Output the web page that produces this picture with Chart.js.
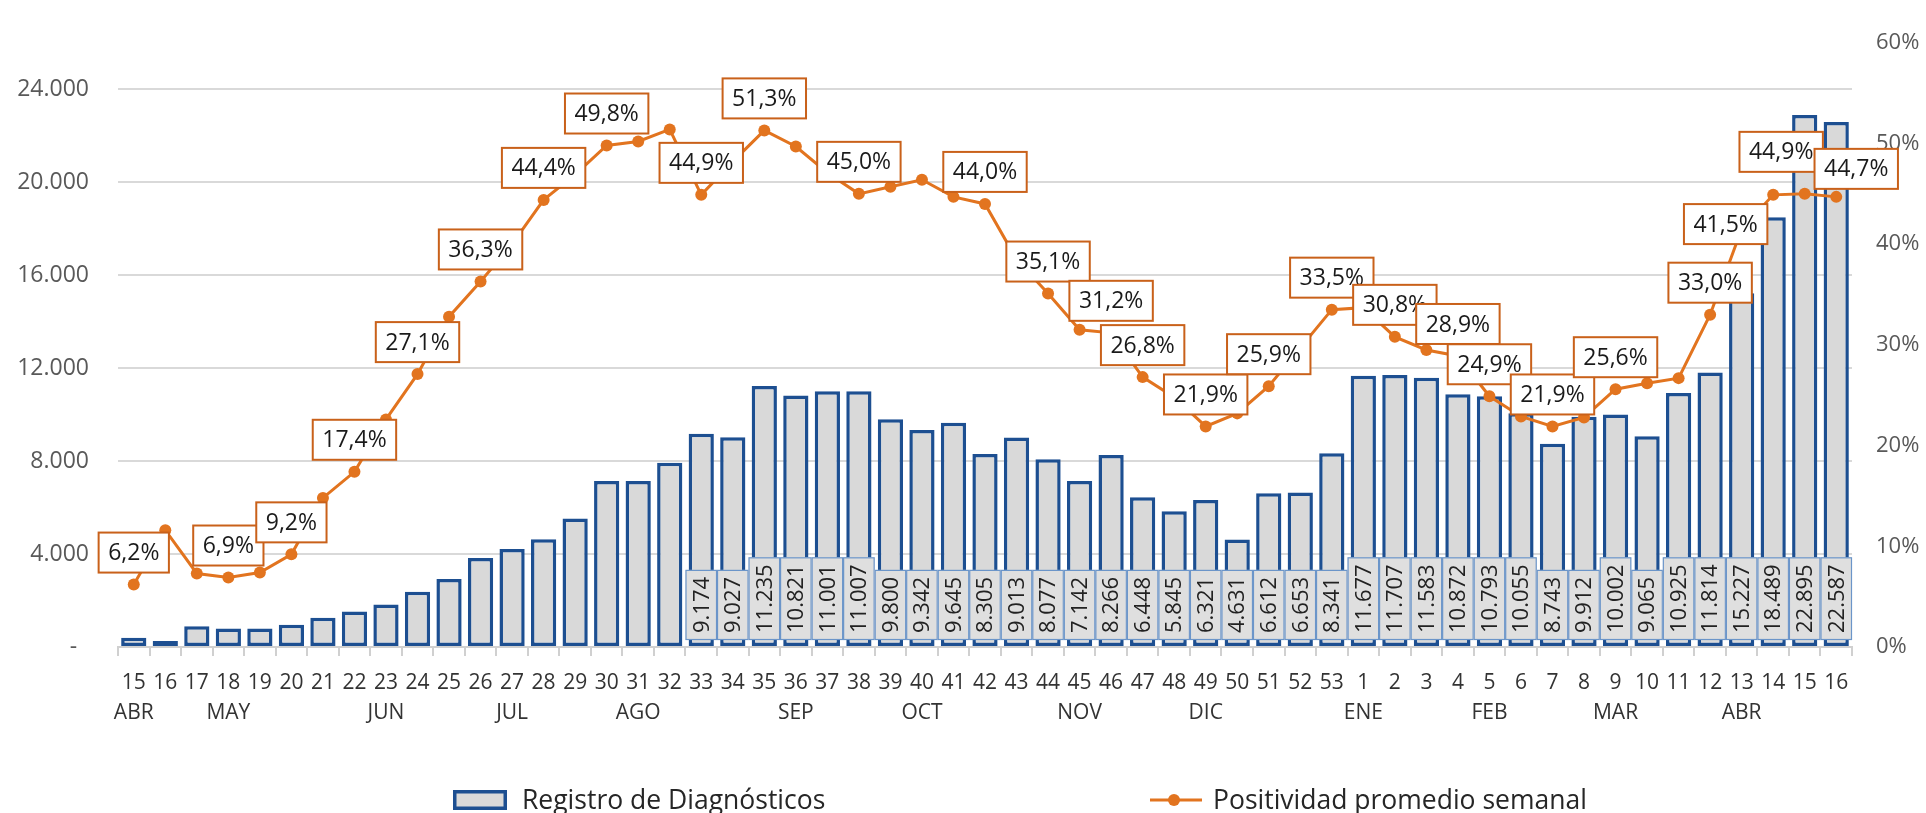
<!DOCTYPE html>
<html>
<head>
<meta charset="utf-8">
<script src="https://cdn.jsdelivr.net/npm/chart.js@4.4.1/dist/chart.umd.min.js"></script>
<style>
  html, body { margin: 0; padding: 0; background: #fff; overflow: hidden; }
</style>
</head>
<body>
<canvas id="chart" width="1926" height="813"></canvas>
<script>
// Semanas epidemiológicas (abr 2020 -> abr 2021)
const weeks = ['15','16','17','18','19','20','21','22','23','24','25','26','27','28','29','30','31','32','33','34',
  '35','36','37','38','39','40','41','42','43','44','45','46','47','48','49','50','51','52','53',
  '1','2','3','4','5','6','7','8','9','10','11','12','13','14','15','16'];
const monthNames = ['ABR','MAY','JUN','JUL','AGO','SEP','OCT','NOV','DIC','ENE','FEB','MAR','ABR'];
const monthAt = [0, 3, 8, 12, 16, 21, 25, 30, 34, 39, 43, 47, 51];

const diagnosticos = [400, 260, 890, 800, 800, 960, 1260, 1530, 1830, 2380, 2930, 3830, 4220, 4640, 5530, 7140, 7140, 7930,
  9174, 9027, 11235, 10821, 11001, 11007, 9800, 9342, 9645, 8305, 9013, 8077, 7142, 8266, 6448, 5845, 6321, 4631, 6612, 6653, 8341,
  11677, 11707, 11583, 10872, 10793, 10055, 8743, 9912, 10002, 9065, 10925, 11814, 15227, 18489, 22895, 22587];

const positividad = [6.2, 11.6, 7.3, 6.9, 7.4, 9.2, 14.8, 17.4, 22.6, 27.1, 32.8, 36.3, 40.0, 44.4, 46.9, 49.8, 50.2, 51.4,
  44.9, 48.2, 51.3, 49.7, 47.1, 45.0, 45.7, 46.4, 44.7, 44.0, 38.5, 35.1, 31.5, 31.2, 26.8, 24.8, 21.9, 23.2, 25.9, 29.7, 33.5,
  33.7, 30.8, 29.5, 28.9, 24.9, 22.9, 21.9, 22.8, 25.6, 26.2, 26.7, 33.0, 41.5, 44.9, 45.0, 44.7];

const leftTicks = [0, 4000, 8000, 12000, 16000, 20000, 24000];
const rightTicks = [0, 10, 20, 30, 40, 50, 60];

// puntos de la línea que llevan etiqueta, y desde qué barra se rotulan los valores
const lineLabelAt = [0, 3, 5, 7, 9, 11, 13, 15, 18, 20, 23, 27, 29, 31, 32, 34, 36, 38, 40, 42, 43, 45, 47, 50, 51, 52, 54];
const firstBarLabel = 18;

const BLUE = '#1d4f91', GREY = '#d9d9d9', ORANGE = '#e2741f', ORANGE_DARK = '#c9611a';
const FONT = "'Open Sans'";

const labels = weeks.map((w, i) => {
  const m = monthAt.indexOf(i);
  return [w, m >= 0 ? monthNames[m] : ''];
});

function miles(v) { return String(Math.round(v)).replace(/\B(?=(\d{3})+(?!\d))/g, '.'); }
function pct(v) { return v.toFixed(1).replace('.', ',') + '%'; }

// cajas de etiquetas: verticales en barras, horizontales sobre la línea
const labelBoxes = {
  id: 'labelBoxes',
  afterDatasetsDraw(chart, args, opts) {
    const { ctx, scales: { x, y } } = chart;
    const lineMeta = chart.getDatasetMeta(0);
    const barMeta = chart.getDatasetMeta(1);
    const step = x.getPixelForValue(1) - x.getPixelForValue(0);
    ctx.save();

    ctx.font = '22px ' + FONT;
    barMeta.data.forEach((bar, i) => {
      if (i < firstBarLabel) return;
      const txt = miles(diagnosticos[i]);
      const h = ctx.measureText(txt).width + 14;
      const bottom = y.bottom - 7;
      const left = bar.x - step / 2;
      ctx.fillStyle = '#dfdfdf';
      ctx.fillRect(left, bottom - h, step, h);
      ctx.strokeStyle = '#6b95c9';
      ctx.lineWidth = 1.2;
      ctx.strokeRect(left + 0.5, bottom - h + 0.5, step - 1, h - 1);
      ctx.save();
      ctx.translate(bar.x, bottom - h / 2);
      ctx.rotate(-Math.PI / 2);
      ctx.fillStyle = '#222';
      ctx.textAlign = 'center';
      ctx.textBaseline = 'middle';
      ctx.fillText(txt, 0, 1);
      ctx.restore();
    });

    ctx.font = '23px ' + FONT;
    ctx.textAlign = 'center';
    ctx.textBaseline = 'middle';
    lineLabelAt.forEach(i => {
      const pt = lineMeta.data[i];
      const nudge = opts.nudge[i] || [0, 0];
      const txt = pct(positividad[i]);
      const w = ctx.measureText(txt).width + 19, h = 40;
      const cx = pt.x + nudge[0];
      const bottom = pt.y - 12 + nudge[1];
      ctx.fillStyle = '#fff';
      ctx.fillRect(cx - w / 2, bottom - h, w, h);
      ctx.strokeStyle = ORANGE_DARK;
      ctx.lineWidth = 2;
      ctx.strokeRect(cx - w / 2, bottom - h, w, h);
      ctx.fillStyle = '#1a1a1a';
      ctx.fillText(txt, cx, bottom - h / 2 + 1);
    });
    ctx.restore();
  }
};

// leyenda inferior (recortada por el borde, como en el original)
const bottomLegend = {
  id: 'bottomLegend',
  afterDraw(chart, args, opts) {
    const ctx = chart.ctx;
    const [lineDs, barDs] = chart.data.datasets;
    const ym = opts.y;
    ctx.save();
    ctx.fillStyle = barDs.backgroundColor;
    ctx.fillRect(opts.barX, ym - 10, 54, 20);
    ctx.strokeStyle = barDs.borderColor;
    ctx.lineWidth = 3.5;
    ctx.strokeRect(opts.barX + 1.75, ym - 8.25, 50.5, 16.5);

    ctx.strokeStyle = lineDs.borderColor;
    ctx.lineWidth = 3;
    ctx.beginPath();
    ctx.moveTo(opts.lineX, ym);
    ctx.lineTo(opts.lineX + 52, ym);
    ctx.stroke();
    ctx.fillStyle = lineDs.backgroundColor;
    ctx.beginPath();
    ctx.arc(opts.lineX + 24, ym, 6, 0, Math.PI * 2);
    ctx.fill();

    ctx.font = opts.font;
    ctx.fillStyle = opts.color;
    ctx.textBaseline = 'middle';
    ctx.textAlign = 'left';
    ctx.fillText(barDs.label, opts.barX + 69, ym + 1);
    ctx.fillText(lineDs.label, opts.lineX + 63, ym + 1);
    ctx.restore();
  }
};

Chart.defaults.font.family = FONT;

new Chart(document.getElementById('chart'), {
  type: 'bar',
  data: {
    labels: labels,
    datasets: [
      {
        type: 'line',
        label: 'Positividad promedio semanal',
        data: positividad,
        yAxisID: 'y1',
        borderColor: ORANGE,
        backgroundColor: ORANGE,
        borderWidth: 3,
        pointRadius: 6,
        pointHoverRadius: 6,
        pointBorderWidth: 0,
        tension: 0,
        order: 0,
      },
      {
        type: 'bar',
        label: 'Registro de Diagnósticos',
        data: diagnosticos,
        yAxisID: 'y',
        backgroundColor: GREY,
        borderColor: BLUE,
        borderWidth: 3.5,
        borderSkipped: false,
        barPercentage: 0.8,
        categoryPercentage: 1,
        order: 1,
      },
    ],
  },
  options: {
    responsive: false,
    animation: false,
    devicePixelRatio: 1,
    layout: { padding: { top: 23, left: 0, right: 0, bottom: 0 } },
    plugins: {
      legend: { display: false },
      tooltip: { enabled: false },
      labelBoxes: { nudge: { 51: [-16, 27], 52: [8, -11], 54: [20, 4] } },
      bottomLegend: { y: 800, barX: 453, lineX: 1150, font: '26.5px ' + FONT, color: '#262626' },
    },
    scales: {
      x: {
        offset: true,
        grid: { offset: true, drawOnChartArea: false, drawTicks: true, tickLength: 9, color: '#d0d0d0', lineWidth: 2 },
        border: { display: true, color: '#d0d0d0', width: 2 },
        ticks: { autoSkip: false, maxRotation: 0, minRotation: 0, padding: 12, color: '#333', font: { size: 21, lineHeight: '30px' } },
        afterFit(s) { s.height = 166; },
      },
      y: {
        position: 'left',
        min: 0,
        max: 26000,
        afterBuildTicks(s) { s.ticks = leftTicks.map(v => ({ value: v })); },
        grid: { color: GREY, lineWidth: 2, drawTicks: false },
        border: { display: false },
        ticks: { padding: 29, color: '#595959', font: { size: 23 }, callback: v => v === 0 ? '-  ' : miles(v) },
        afterFit(s) { s.width = 118; },
      },
      y1: {
        position: 'right',
        min: 0,
        max: 60,
        afterBuildTicks(s) { s.ticks = rightTicks.map(v => ({ value: v })); },
        grid: { drawOnChartArea: false, drawTicks: false },
        border: { display: false },
        ticks: { padding: 24, color: '#595959', font: { size: 22 }, callback: v => v + '%' },
        afterFit(s) { s.width = 74; },
      },
    },
  },
  plugins: [labelBoxes, bottomLegend],
});
</script>
</body>
</html>
